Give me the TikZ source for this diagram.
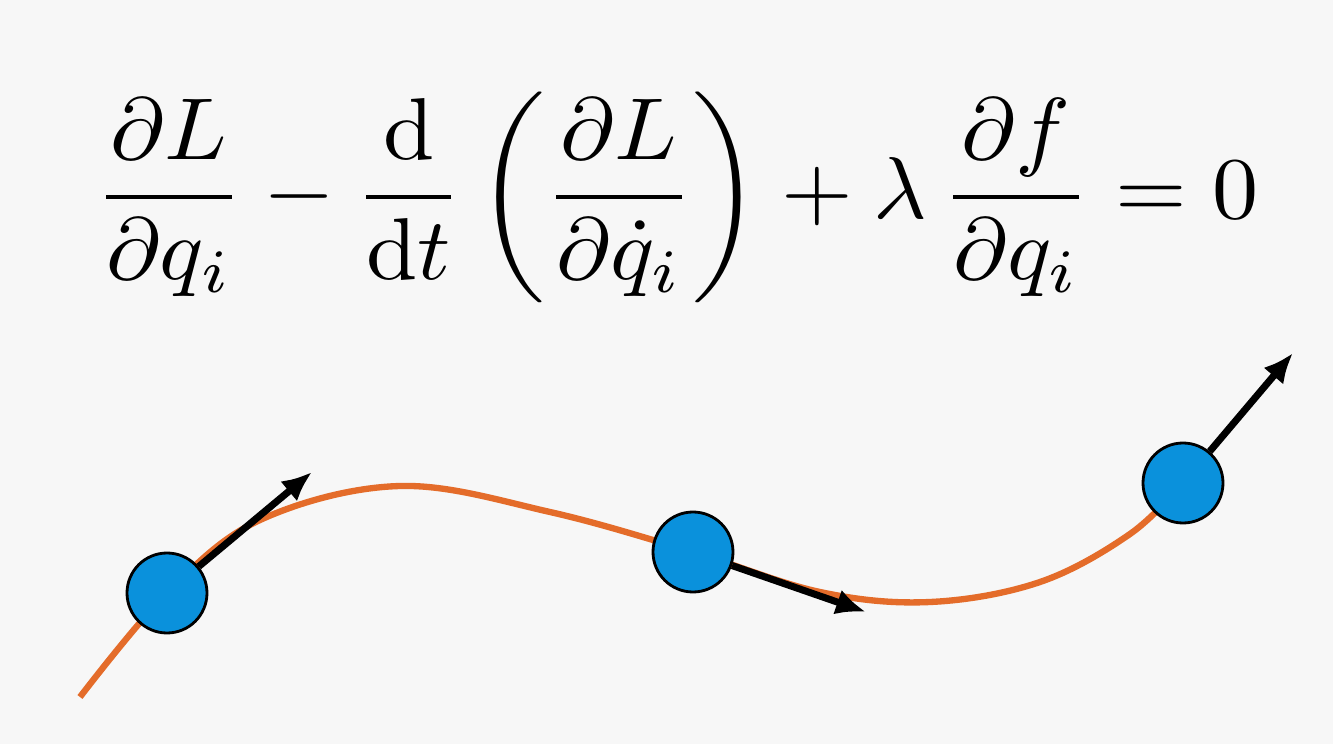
\documentclass[tikz,border=0pt]{standalone}
\usepackage{amsmath,amssymb}
\usepackage{xcolor}
\usepackage{tikz}
\usetikzlibrary{arrows.meta,positioning,calc}
\definecolor{pathorange}{RGB}{228,108,42}
\definecolor{ballblue}{RGB}{10,145,220}
\definecolor{bggray}{RGB}{247,247,247}
\begin{document}
\begin{tikzpicture}[>={Latex[length=3mm,width=2.6mm]},ball/.style={circle,draw=black,thick,fill=ballblue,minimum size=8mm,inner sep=0pt},vec/.style={->,line width=2pt,black},traj/.style={pathorange,line width=1.8pt}]
\fill[bggray] (0,0) rectangle (13.33,7.44);
\useasboundingbox (0,0) rectangle (13.33,7.44);
\node (eq) at (6.77,5.47) {\scalebox{2.62}[2.5]{$\displaystyle \frac{\partial L}{\partial q_i}-\frac{\mathrm{d}}{\mathrm{d}t}\left(\frac{\partial L}{\partial \dot{q}_i}\right)+\lambda\,\frac{\partial f}{\partial q_i}=0$}};
\draw[traj] plot[smooth,tension=0.6] coordinates {(0.80,0.47) (1.67,1.51) (2.6,2.24) (4.0,2.58) (5.5,2.32) (6.93,1.92) (8.2,1.52) (9.3,1.42) (10.4,1.62) (11.3,2.1) (11.83,2.61)};
\node[ball] (m1) at (1.67,1.51) {};
\node[ball] (m2) at (6.93,1.92) {};
\node[ball] (m3) at (11.83,2.61) {};
\coordinate (v1) at (3.12,2.72);
\coordinate (v2) at (8.66,1.32);
\coordinate (v3) at (12.93,3.91);
\draw[vec] (m1)--(v1);
\draw[vec] (m2)--(v2);
\draw[vec] (m3)--(v3);
\end{tikzpicture}
\end{document}
